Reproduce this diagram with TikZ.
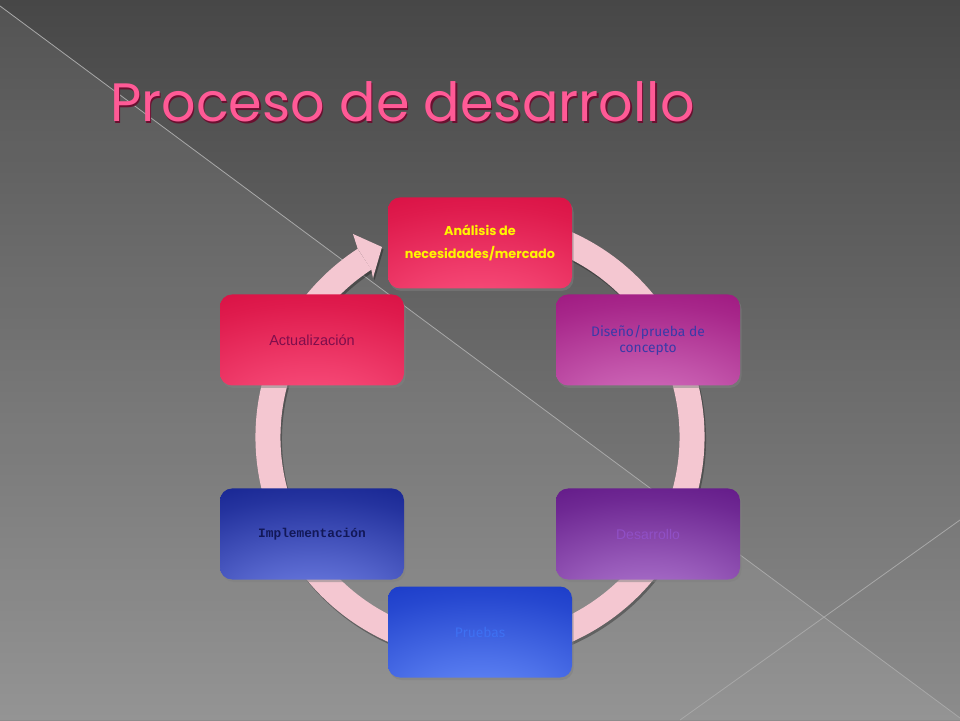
\documentclass[tikz,border=0pt]{standalone}
\usepackage{fontspec}
\setmainfont{Liberation Sans}
\newfontfamily\titlefont{Poppins}
\newfontfamily\heavyfont{Poppins}
\newfontfamily\softfont{Fira Sans}
\newfontfamily\typefont{Liberation Mono}
\usetikzlibrary{shadows}

\definecolor{bgtop}{HTML}{474747}
\definecolor{bgbot}{HTML}{8C8C8C}
\definecolor{ringpink}{HTML}{F4C7D1}
\definecolor{linegray}{HTML}{A8A8A8}
\definecolor{titlepink}{HTML}{FF5A96}
\definecolor{titledark}{HTML}{6A1030}
\definecolor{redIn}{HTML}{FF5A86}
\definecolor{redOut}{HTML}{D4063A}
\definecolor{magIn}{HTML}{DA7CC6}
\definecolor{magOut}{HTML}{960A76}
\definecolor{purIn}{HTML}{B882D8}
\definecolor{purOut}{HTML}{560A7C}
\definecolor{bluIn}{HTML}{6E94FF}
\definecolor{bluOut}{HTML}{0E2EC0}
\definecolor{navIn}{HTML}{7A8AEE}
\definecolor{navOut}{HTML}{081684}
\definecolor{anaText}{HTML}{FFF500}
\definecolor{disText}{HTML}{3A3AA8}
\definecolor{desText}{HTML}{9050C6}
\definecolor{pruText}{HTML}{3E70F2}
\definecolor{impText}{HTML}{121858}
\definecolor{actText}{HTML}{7E0E4C}

\colorlet{boxin}{white}
\colorlet{boxout}{black}
\pgfdeclareradialshading[boxin,boxout]{boxglow}{\pgfpoint{0bp}{-46bp}}{color(0bp)=(boxin); color(22bp)=(boxin!65!boxout); color(45bp)=(boxin!25!boxout); color(65bp)=(boxout); color(100bp)=(boxout)}

\tikzset{
  stagebox/.style n args={2}{rectangle, rounded corners=12pt,
    minimum width=184pt, minimum height=91pt, inner sep=4pt, align=center,
    /utils/exec={\colorlet{boxin}{#1}\colorlet{boxout}{#2}},
    shading=boxglow,
    drop shadow={opacity=0.5, shadow xshift=1.5pt, shadow yshift=-2.5pt}},
  ringstroke/.style={line width=25pt, ringpink},
  ringshadow/.style={line width=25pt, black, opacity=0.3},
  bgline/.style={linegray, line width=0.8pt},
}

\begin{document}
\begin{tikzpicture}[x=1pt, y=1pt]
\useasboundingbox (0,0) rectangle (960,720);
% background
\fill[top color=bgtop, bottom color=bgbot] (0,0) rectangle (960,720);
\fill[white, opacity=0.07] (0,714) -- (960,2) -- (960,0) -- (0,0) -- cycle;
\draw[bgline] (0,714) -- (960,2);
\draw[bgline] (960,200) -- (680,0);

% cycle ring
\coordinate (C) at (480,283);
\draw[ringshadow] ([shift={(1.5,-2.5)}]C) ++(75:212) arc[start angle=75, end angle=-237, radius=212];
\fill[black, opacity=0.3, shift={(1.5,-2.5)}] (357.7,471.3) -- (353,486) -- (382,473) -- (373,442) -- (371.3,450.3) -- cycle;
\draw[ringstroke] (C) ++(75:212) arc[start angle=75, end angle=-237, radius=212];
\fill[ringpink] (357.7,471.3) -- (353,486) -- (382,473) -- (373,442) -- (371.3,450.3) -- cycle;

% stages
\node[stagebox={redIn}{redOut}, text=anaText,
  font={\heavyfont\bfseries\fontsize{12.8pt}{23pt}\selectfont}] (ana) at (480,477)
  {Análisis de\\necesidades/mercado};
\node[stagebox={magIn}{magOut}, text=disText,
  font={\softfont\fontsize{13.8pt}{16pt}\selectfont}] (dis) at (648,380)
  {Diseño/prueba de\\concepto};
\node[stagebox={purIn}{purOut}, text=desText,
  font={\fontsize{14pt}{16pt}\selectfont}] (des) at (648,186) {Desarrollo};
\node[stagebox={bluIn}{bluOut}, text=pruText,
  font={\softfont\fontsize{13.8pt}{15pt}\selectfont}] (pru) at (480,88) {Pruebas};
\node[stagebox={navIn}{navOut}, text=impText,
  font={\typefont\bfseries\fontsize{12.8pt}{15pt}\selectfont}] (imp) at (312,186) {Implementación};
\node[stagebox={redIn}{redOut}, text=actText,
  font={\fontsize{14.5pt}{17pt}\selectfont}] (act) at (312,380) {Actualización};

% title
\node[anchor=base west, inner sep=0pt, text=titledark,
  font={\titlefont\fontsize{54pt}{60pt}\selectfont}] (titleshadow) at (111.3,596.7) {Proceso de desarrollo};
\node[anchor=base west, inner sep=0pt, text=titlepink,
  font={\titlefont\fontsize{54pt}{60pt}\selectfont}] (title) at (110,598) {Proceso de desarrollo};
\end{tikzpicture}
\end{document}
